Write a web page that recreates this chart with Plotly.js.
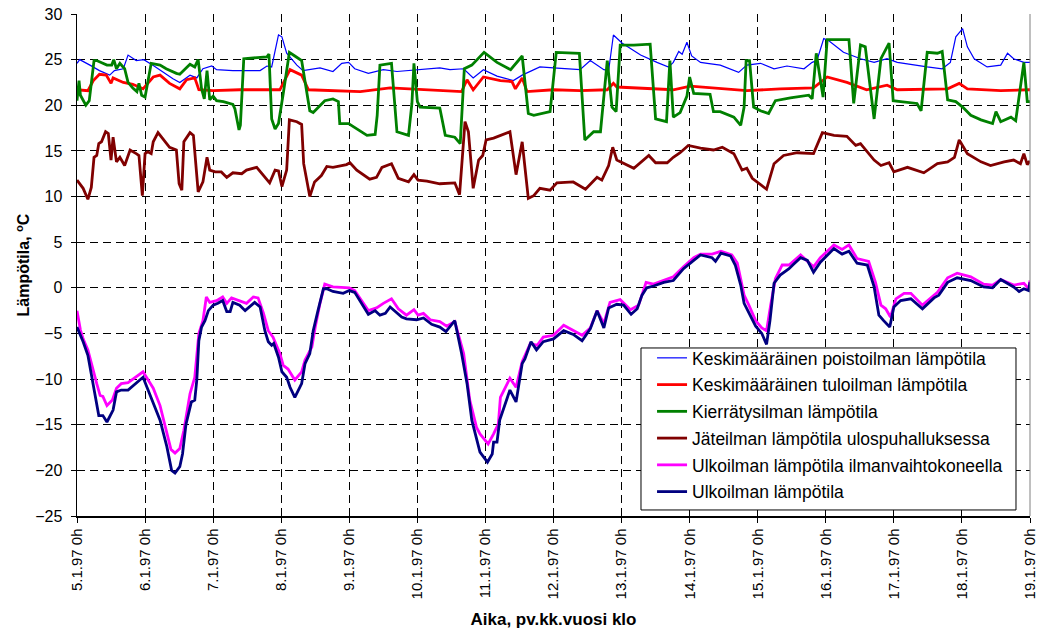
<!DOCTYPE html>
<html>
<head>
<meta charset="utf-8">
<script src="https://cdn.plot.ly/plotly-3.0.1.min.js"></script>
<style>html,body{margin:0;padding:0;background:#fff;}#chart{width:1037px;height:635px;}</style>
</head>
<body>
<div id="chart"></div>
<script>
// x = days since 5.1.97 0h
const tickDays = [0,1,2,3,4,5,6,7,8,9,10,11,12,13,14];
const tickLabels = ["5.1.97 0h","6.1.97 0h","7.1.97 0h","8.1.97 0h","9.1.97 0h","10.1.97 0h","11.1.97 0h","12.1.97 0h","13.1.97 0h","14.1.97 0h","15.1.97 0h","16.1.97 0h","17.1.97 0h","18.1.97 0h","19.1.97 0h"];

const seriesNames = ["Keskimääräinen poistoilman lämpötila","Keskimääräinen tuloilman lämpötila","Kierrätysilman lämpötila","Jäteilman lämpötila ulospuhalluksessa","Ulkoilman lämpötila ilmanvaihtokoneella","Ulkoilman lämpötila"];

const poistoX = [0,0.04,0.19,0.33,0.48,0.55,0.68,0.75,0.87,0.98,1.11,1.26,1.41,1.51,1.66,1.76,1.85,1.98,2.05,2.29,2.69,2.79,2.86,2.96,3.01,3.08,3.23,3.32,3.57,3.76,3.89,3.99,4.08,4.28,4.50,4.70,4.99,5.33,5.48,5.68,5.82,5.97,6.17,6.41,6.54,6.80,7.00,7.39,7.54,7.74,7.81,7.88,8.01,8.28,8.52,8.69,8.76,8.84,8.89,8.96,9.03,9.16,9.26,9.45,9.72,9.84,10.04,10.24,10.43,10.68,10.80,10.87,10.97,11.04,11.26,11.51,11.71,11.90,12.05,12.29,12.49,12.71,12.83,12.91,13.01,13.08,13.18,13.37,13.57,13.67,13.76,13.91,14.0];
const poistoY = [24.6,25.0,24.4,23.8,23.3,23.8,24.0,25.5,24.9,25.0,24.4,23.6,22.9,22.5,23.3,23.0,24.0,24.3,23.9,23.8,23.8,24.3,24.2,27.7,27.5,25.7,24.4,23.8,24.1,23.7,24.6,24.7,24.0,23.5,23.9,23.7,23.9,24.1,23.9,24.0,23.0,23.9,23.2,22.7,23.3,24.2,24.1,23.9,24.9,23.9,23.8,27.7,26.8,25.5,24.7,24.2,24.7,25.9,25.6,26.9,25.4,24.7,24.6,24.4,23.6,24.4,24.6,24.0,24.3,24.0,24.7,24.9,27.3,27.1,25.8,25.1,24.7,25.1,24.7,24.4,24.2,24.0,24.7,27.5,28.4,26.4,25.1,24.2,24.4,25.7,25.1,24.7,24.7];

const tuloX = [0,0.16,0.24,0.33,0.43,0.50,0.53,0.68,0.82,0.97,1.12,1.22,1.36,1.51,1.61,1.73,1.79,2.00,2.39,2.79,2.98,3.13,3.30,3.40,3.72,4.16,4.60,5.19,5.65,5.73,5.82,5.97,6.22,6.39,6.44,6.54,6.61,7.00,7.39,7.79,7.88,7.93,8.28,8.76,9.01,9.35,9.84,10.33,10.82,11.02,11.31,11.60,11.90,12.05,12.79,12.96,13.08,13.57,14.0];
const tuloY = [21.7,21.6,22.7,23.4,23.3,22.4,23.0,22.5,22.3,21.8,23.1,23.3,22.4,21.8,22.8,23.0,21.7,21.6,21.7,21.7,21.7,23.9,23.3,21.7,21.6,21.5,21.9,21.7,21.5,22.8,21.7,23.1,22.7,22.6,21.8,23.0,21.5,21.7,21.6,21.7,22.4,22.0,21.9,21.7,22.1,21.9,21.6,21.8,21.9,23.1,22.5,21.7,22.2,21.7,21.8,22.4,21.8,21.6,21.7];

const kiertoX = [0,0.03,0.05,0.13,0.18,0.25,0.29,0.36,0.44,0.51,0.54,0.58,0.63,0.70,0.75,0.82,0.88,0.91,0.95,1.00,1.09,1.22,1.31,1.46,1.51,1.66,1.73,1.78,1.83,1.87,1.91,1.95,2.00,2.05,2.15,2.29,2.32,2.38,2.40,2.45,2.59,2.79,2.82,2.86,2.91,2.96,3.03,3.12,3.20,3.30,3.42,3.47,3.64,3.76,3.84,3.86,3.99,4.13,4.26,4.38,4.41,4.45,4.62,4.70,4.87,4.92,4.95,5.00,5.04,5.33,5.41,5.55,5.63,5.69,5.80,5.98,6.17,6.37,6.54,6.63,6.71,6.95,7.04,7.38,7.46,7.59,7.69,7.79,7.86,7.92,7.98,8.18,8.42,8.50,8.66,8.71,8.76,8.86,8.96,9.00,9.06,9.30,9.35,9.45,9.65,9.75,9.80,9.83,9.88,9.94,10.04,10.16,10.26,10.48,10.75,10.80,10.86,10.96,11.02,11.34,11.41,11.51,11.58,11.71,11.81,11.93,11.99,12.10,12.34,12.40,12.49,12.64,12.71,12.79,12.91,13.01,13.13,13.28,13.45,13.50,13.57,13.72,13.79,13.91,13.96,14.0];
const kiertoY = [20.5,22.7,21.1,20.0,20.5,24.9,24.9,24.7,24.4,24.4,25.0,24.0,24.6,24.0,22.5,21.9,21.5,22.4,21.1,20.9,24.6,24.4,24.0,23.5,23.4,24.5,24.2,25.0,21.8,20.7,23.8,20.6,21.0,20.5,20.4,20.1,19.6,17.3,17.8,25.1,25.2,25.3,25.6,18.5,17.4,18.0,21.3,25.8,25.4,24.9,19.4,19.2,20.5,20.7,20.4,18.0,18.0,17.3,16.7,16.8,18.9,24.4,24.6,17.1,16.7,20.2,24.6,20.4,19.8,19.7,16.7,16.5,15.8,24.0,24.4,25.8,24.7,23.9,25.4,19.1,18.9,19.3,25.8,25.7,16.2,17.1,17.1,24.9,19.8,19.3,26.6,26.6,26.7,18.5,18.2,24.9,18.7,19.2,21.0,23.1,21.3,21.2,19.3,19.3,18.7,17.8,19.8,24.9,24.9,19.8,19.4,19.1,20.5,20.8,21.1,20.7,25.7,20.9,27.2,27.2,20.2,26.6,26.4,18.5,25.1,26.8,20.5,20.4,20.2,19.4,25.8,25.7,25.9,20.6,20.4,19.8,18.9,18.4,18.0,19.3,18.2,18.7,18.3,24.7,20.4,20.4];

const jateX = [0,0.09,0.16,0.21,0.25,0.29,0.32,0.36,0.42,0.46,0.50,0.53,0.58,0.63,0.70,0.78,0.87,0.91,0.96,1.00,1.04,1.09,1.12,1.19,1.36,1.46,1.50,1.54,1.57,1.66,1.71,1.78,1.85,1.91,1.95,2.03,2.12,2.20,2.29,2.42,2.49,2.64,2.83,2.91,2.96,3.01,3.08,3.12,3.23,3.30,3.33,3.42,3.49,3.59,3.67,3.76,3.96,4.01,4.11,4.30,4.40,4.48,4.62,4.72,4.87,4.95,5.01,5.14,5.33,5.55,5.62,5.70,5.75,5.82,5.90,5.96,6.01,6.12,6.36,6.45,6.54,6.63,6.71,6.80,6.95,7.05,7.29,7.47,7.64,7.71,7.81,7.87,7.93,8.18,8.40,8.50,8.67,8.76,8.86,8.98,9.16,9.35,9.48,9.65,9.77,9.84,9.92,10.06,10.13,10.24,10.38,10.58,10.82,10.95,11.12,11.31,11.44,11.51,11.71,11.81,11.93,12.00,12.20,12.44,12.64,12.79,12.89,12.96,13.08,13.28,13.42,13.62,13.76,13.86,13.91,13.96,14.0];
const jateY = [11.8,10.9,9.7,11.0,14.3,14.5,15.8,16.0,17.1,16.9,14.0,16.5,13.8,14.3,13.4,15.1,14.7,14.5,10.1,14.7,14.9,14.7,16.0,17.0,15.4,15.1,11.4,10.7,16.0,17.0,16.7,10.5,11.6,14.3,12.9,12.7,12.7,12.1,12.6,12.5,12.9,13.2,11.5,12.9,12.8,11.1,12.9,18.4,18.2,17.9,13.6,10.0,11.6,12.3,13.3,13.2,13.5,13.7,12.9,11.9,12.1,13.2,13.6,12.0,11.6,12.4,11.8,11.7,11.4,11.5,10.2,18.2,17.1,10.9,14.0,14.5,16.2,16.4,17.1,12.4,16.0,9.8,10.1,10.9,10.7,11.5,11.6,10.8,12.1,11.8,13.4,15.4,14.0,13.1,14.5,13.7,13.7,14.3,14.8,15.6,15.3,15.1,15.4,14.7,12.9,13.1,12.0,11.2,10.8,13.6,14.5,14.8,14.7,17.0,16.7,16.6,15.6,15.8,14.0,13.4,13.7,12.7,13.2,12.6,13.6,13.8,14.3,16.2,14.7,13.8,13.4,13.8,14.0,13.6,14.7,13.5,13.9];

const ulkoKoneX = [0,0.05,0.09,0.16,0.29,0.34,0.38,0.44,0.52,0.58,0.65,0.75,0.97,1.12,1.22,1.32,1.38,1.44,1.51,1.57,1.66,1.73,1.79,1.85,1.90,1.95,2.05,2.14,2.20,2.27,2.39,2.49,2.59,2.66,2.74,2.81,2.88,2.98,3.03,3.10,3.20,3.30,3.35,3.45,3.50,3.57,3.64,3.76,4.00,4.08,4.28,4.40,4.50,4.62,4.72,4.84,4.95,5.01,5.09,5.19,5.33,5.43,5.55,5.68,5.77,5.87,5.92,6.04,6.12,6.19,6.22,6.36,6.45,6.54,6.66,6.76,6.85,7.00,7.15,7.29,7.42,7.54,7.64,7.74,7.83,7.98,8.13,8.25,8.36,8.47,8.62,8.76,8.91,9.06,9.16,9.33,9.46,9.62,9.70,9.80,9.87,9.97,10.06,10.13,10.19,10.26,10.36,10.46,10.63,10.82,10.92,11.12,11.24,11.34,11.46,11.63,11.73,11.81,11.88,11.95,12.03,12.15,12.25,12.42,12.64,12.79,12.93,13.13,13.32,13.45,13.57,13.76,13.91,13.98,14.0];
const ulkoKoneY = [-2.5,-4.6,-5.6,-6.8,-10.5,-11.8,-11.9,-12.9,-12.3,-11.0,-10.5,-10.4,-9.2,-11.0,-12.9,-16.0,-17.7,-18.1,-17.6,-15.6,-11.6,-9.8,-5.0,-3.6,-1.0,-1.6,-1.4,-1.0,-1.7,-1.1,-1.4,-1.7,-1.0,-1.1,-2.8,-4.7,-5.4,-7.2,-8.5,-8.9,-10.1,-9.2,-7.9,-6.5,-4.3,-1.7,0.4,0.1,0.0,-0.3,-2.5,-2.2,-1.7,-1.2,-2.3,-3.0,-2.4,-3.0,-2.8,-3.5,-3.7,-4.2,-3.7,-7.2,-12.3,-15.3,-16.0,-17.1,-16.0,-14.9,-12.0,-9.9,-10.9,-8.1,-6.1,-6.3,-5.4,-5.2,-4.1,-4.7,-5.2,-4.4,-2.5,-3.9,-1.6,-1.3,-2.4,-1.9,0.6,0.4,0.8,1.2,2.3,3.3,3.7,3.7,4.0,3.6,2.7,-0.8,-1.9,-3.6,-4.4,-4.7,-1.9,1.0,2.5,2.5,3.6,2.3,3.3,4.7,4.2,4.7,3.2,2.9,0.6,-1.9,-2.3,-3.2,-1.2,-0.6,-0.6,-1.9,-0.5,1.1,1.6,1.2,0.4,0.3,0.9,0.3,0.5,-0.1,0.8];

const ulkoX = [0,0.09,0.16,0.26,0.32,0.38,0.44,0.53,0.58,0.65,0.75,0.97,1.12,1.22,1.32,1.39,1.44,1.51,1.55,1.60,1.68,1.73,1.76,1.79,1.83,1.88,1.93,2.00,2.07,2.14,2.20,2.25,2.29,2.39,2.47,2.59,2.61,2.69,2.76,2.81,2.86,2.89,2.96,3.01,3.08,3.13,3.20,3.30,3.35,3.42,3.47,3.54,3.62,3.67,3.76,3.91,4.00,4.08,4.28,4.38,4.45,4.53,4.60,4.77,4.84,4.99,5.09,5.21,5.33,5.42,5.47,5.55,5.65,5.73,5.80,5.87,5.92,6.03,6.10,6.12,6.17,6.21,6.36,6.45,6.54,6.58,6.67,6.75,6.85,7.00,7.15,7.29,7.42,7.54,7.64,7.74,7.81,7.93,8.03,8.14,8.23,8.30,8.37,8.47,8.62,8.76,8.91,9.06,9.16,9.33,9.38,9.46,9.60,9.67,9.75,9.80,9.87,9.97,10.06,10.13,10.18,10.24,10.33,10.46,10.53,10.63,10.73,10.82,10.92,11.02,11.12,11.24,11.34,11.46,11.61,11.71,11.78,11.85,11.94,12.00,12.10,12.25,12.42,12.59,12.66,12.79,12.93,13.13,13.32,13.45,13.57,13.76,13.84,13.91,13.98,14.0];
const ulkoY = [-4.3,-5.9,-7.4,-11.4,-14.0,-14.0,-14.7,-13.4,-11.4,-11.2,-11.2,-9.8,-12.5,-14.5,-17.4,-20.0,-20.3,-19.6,-18.2,-15.0,-12.5,-12.3,-10.1,-5.8,-4.3,-3.6,-2.5,-1.9,-1.7,-1.4,-2.6,-2.6,-1.6,-1.9,-2.5,-1.8,-1.6,-2.1,-4.7,-5.9,-6.3,-6.1,-7.6,-9.2,-9.8,-10.9,-12.0,-10.5,-8.3,-7.2,-4.7,-2.5,-0.1,-0.1,-0.4,-0.6,-0.3,-0.5,-2.9,-2.5,-3.0,-2.8,-2.1,-3.2,-3.4,-3.5,-3.3,-4.0,-4.3,-4.8,-4.3,-3.6,-7.2,-10.5,-14.5,-16.7,-18.0,-19.1,-18.2,-16.9,-16.9,-14.5,-11.2,-12.5,-8.3,-7.8,-5.9,-6.8,-5.9,-5.6,-4.7,-5.1,-5.8,-4.5,-2.5,-4.4,-2.2,-1.8,-1.9,-2.9,-2.3,-0.8,0.0,0.2,0.6,0.8,2.1,3.0,3.6,3.3,2.9,3.8,3.5,2.5,0.3,-1.7,-2.8,-4.2,-5.0,-6.2,-3.6,0.5,1.4,2.1,2.6,3.3,3.0,1.7,2.8,3.5,4.3,3.7,4.0,2.7,2.5,0.1,-3.0,-3.6,-4.3,-2.1,-1.4,-1.2,-2.3,-1.1,-0.8,0.6,1.1,0.8,0.1,0.0,0.9,0.1,-0.4,-0.1,-0.3,0.6];

const seriesX = [poistoX, tuloX, kiertoX, jateX, ulkoKoneX, ulkoX];
const seriesY = [poistoY, tuloY, kiertoY, jateY, ulkoKoneY, ulkoY];
const colors = ["#0000FF","#FF0000","#008000","#800000","#FF00FF","#000080"];
const widths = [1.2, 2.8, 2.8, 2.8, 2.8, 2.8];

const traces = seriesNames.map((name, i) => ({
  type: 'scatter', mode: 'lines', name: name,
  x: seriesX[i], y: seriesY[i],
  line: {color: colors[i], width: widths[i]},
  legendgroup: 'g' + i
}));

const FONT = 'Liberation Sans, Arial, sans-serif';
const layout = {
  width: 1037, height: 635,
  margin: {l: 77, r: 7, t: 14, b: 119},
  paper_bgcolor: '#ffffff', plot_bgcolor: '#ffffff',
  font: {family: FONT, color: '#000000', size: 15},
  showlegend: true,
  legend: {
    x: 0.6034, y: 0.012, xanchor: 'left', yanchor: 'bottom',
    bgcolor: 'rgba(0,0,0,0)', borderwidth: 0,
    font: {family: FONT, size: 17.5, color: '#000000'},
    tracegroupgap: 1
  },
  xaxis: {
    range: [0, 14], tickvals: tickDays, ticktext: tickLabels,
    tickangle: -90, ticks: 'outside', ticklen: 5, tickcolor: '#000000',
    ticklabeloverflow: 'allow',
    showline: true, linecolor: '#000000', linewidth: 1.5,
    showgrid: true, gridcolor: '#000000', gridwidth: 1, griddash: '8px,5px',
    zeroline: false, tickfont: {family: FONT, size: 15},
    title: {text: 'Aika, pv.kk.vuosi klo', font: {family: FONT, size: 17, weight: 'bold'}, standoff: 14}
  },
  yaxis: {
    range: [-25, 30], tick0: -25, dtick: 5,
    ticks: 'outside', ticklen: 5, tickcolor: '#000000',
    ticklabelstandoff: 5,
    showline: true, linecolor: '#000000', linewidth: 1.5,
    showgrid: true, gridcolor: '#000000', gridwidth: 1, griddash: '8px,5px',
    zeroline: false, tickfont: {family: FONT, size: 16},
    title: {text: 'Lämpötila, <sup>o</sup>C', font: {family: FONT, size: 16, weight: 'bold'}, standoff: 1}
  },
  shapes: [
    {type: 'line', xref: 'paper', yref: 'paper', x0: 1, x1: 1, y0: 0, y1: 1, line: {color: '#808080', width: 1}},
    {type: 'rect', xref: 'paper', yref: 'paper', layer: 'above', x0: 0.5918, x1: 0.9853, y0: 0.012, y1: 0.3347, fillcolor: '#ffffff', line: {color: '#000000', width: 1}}
  ]
};

Plotly.newPlot('chart', traces, layout, {displayModeBar: false, staticPlot: true});
</script>
</body>
</html>
